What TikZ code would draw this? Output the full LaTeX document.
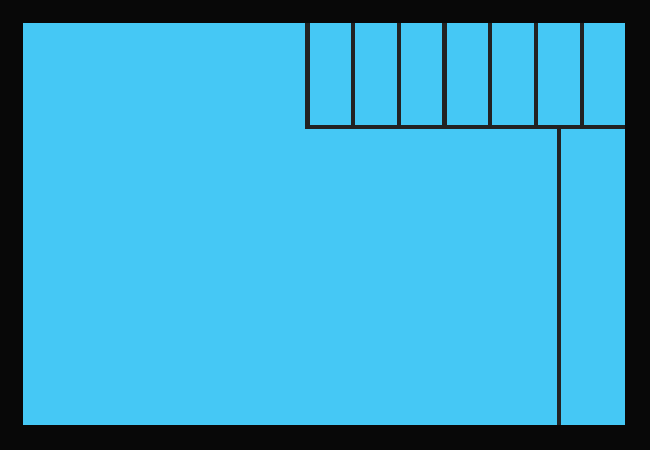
\documentclass[tikz,border=0pt]{standalone}
\definecolor{poolblue}{RGB}{69,200,245}
\definecolor{linegray}{RGB}{34,34,34}
\definecolor{frame}{RGB}{8,8,8}
\tikzset{wall/.style={draw=linegray,line width=4.3pt}}
\begin{document}
\begin{tikzpicture}[x=1pt,y=-1pt]
\fill[frame] (0,0) rectangle (650,450);
\useasboundingbox (0,0) rectangle (650,450);
\fill[poolblue] (23,23) rectangle (625,425);
% top-right grid
\draw[wall] (307.5,23) -- (307.5,127) -- (625,127);
\foreach \x in {353.2,398.9,444.6,490.3,536,581.7}
  \draw[wall] (\x,23) -- (\x,127);
\draw[wall] (559,127) -- (559,425);
\end{tikzpicture}
\end{document}
